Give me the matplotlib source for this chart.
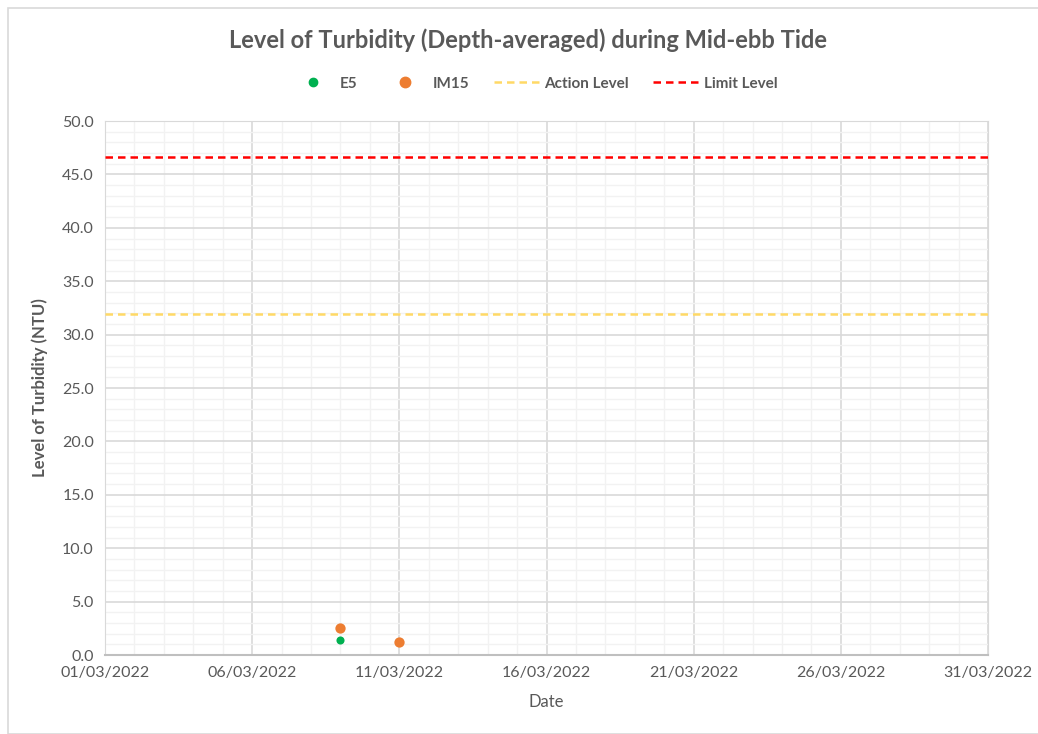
import matplotlib
matplotlib.use("Agg")
import matplotlib.pyplot as plt
from matplotlib.lines import Line2D
from matplotlib.patches import Rectangle
from datetime import datetime, timedelta

# data
e5_dates = ["09/03/2022", "11/03/2022"]
e5_values = [1.4, 1.2]
im15_dates = ["09/03/2022", "11/03/2022"]
im15_values = [2.5, 1.2]
action_level = 31.9
limit_level = 46.6
x_start = "01/03/2022"
x_end = "31/03/2022"

def to_dt(s):
    return datetime.strptime(s, "%d/%m/%Y")

plt.rcParams['font.family'] = ['Lato', 'DejaVu Sans']
grey = '#595959'

fig = plt.figure(figsize=(10.38, 7.34), dpi=100)
ax = fig.add_axes([0.1012, 0.1076, 0.8506, 0.7275])

# outer chart border
fig.patches.append(Rectangle((8 / 1038, 0), 1.0, 1 - 8 / 734, transform=fig.transFigure,
                             fill=False, edgecolor='#d9d9d9', linewidth=1.2))

x0, x1 = to_dt(x_start), to_dt(x_end)
ax.axhline(action_level, color='#ffd966', linestyle=(0, (3, 2)), linewidth=1.8, zorder=3)
ax.axhline(limit_level, color='#ff0000', linestyle=(0, (3, 2)), linewidth=1.8, zorder=3)

ax.scatter([to_dt(d) for d in e5_dates], e5_values, s=34, color='#00b050', zorder=4, linewidths=0)
ax.scatter([to_dt(d) for d in im15_dates], im15_values, s=55, color='#ed7d31', zorder=5, linewidths=0)

ax.set_xlim(x0, x1)
ax.set_ylim(0, 50)

major_days = [x0 + timedelta(days=5 * i) for i in range(7)]
ax.set_xticks(major_days)
ax.set_xticklabels([d.strftime("%d/%m/%Y") for d in major_days])
ax.set_xticks([x0 + timedelta(days=i) for i in range(31)], minor=True)
ax.set_yticks([5 * i for i in range(11)])
ax.set_yticklabels([f"{5 * i:.1f}" for i in range(11)])
ax.set_yticks(range(51), minor=True)

ax.grid(which='minor', color='#f2f2f2', linewidth=1.0, zorder=0)
ax.grid(which='major', color='#d9d9d9', linewidth=1.2, zorder=1)
ax.set_axisbelow(True)
ax.tick_params(which='both', length=0)
ax.tick_params(axis='both', labelsize=11.5, colors=grey, pad=8)
for s in ax.spines.values():
    s.set_color('#d9d9d9')
ax.spines['bottom'].set_color('#bfbfbf')
ax.spines['bottom'].set_linewidth(1.5)

ax.set_xlabel("Date", fontsize=12, color=grey, labelpad=10)
ax.set_ylabel("Level of Turbidity (NTU)", fontsize=12, color=grey, fontweight='bold', labelpad=10)

fig.text(0.509, 0.945, "Level of Turbidity (Depth-averaged) during Mid-ebb Tide",
         ha='center', va='center', fontsize=17, fontweight='bold', color=grey)

handles = [
    Line2D([], [], marker='o', linestyle='none', color='#00b050', markersize=6),
    Line2D([], [], marker='o', linestyle='none', color='#ed7d31', markersize=7.5),
    Line2D([], [], color='#ffd966', linestyle=(0, (3, 2)), linewidth=1.8),
    Line2D([], [], color='#ff0000', linestyle=(0, (3, 2)), linewidth=1.8),
]
fig.legend(handles, ["E5", "IM15", "Action Level", "Limit Level"], loc='center',
           bbox_to_anchor=(0.514, 0.886), ncol=4, frameon=False,
           labelcolor=grey, handlelength=3.0, columnspacing=1.6, handletextpad=0.3,
           prop={'weight': 'bold', 'size': 11})

fig.savefig("out.png", dpi=100)
